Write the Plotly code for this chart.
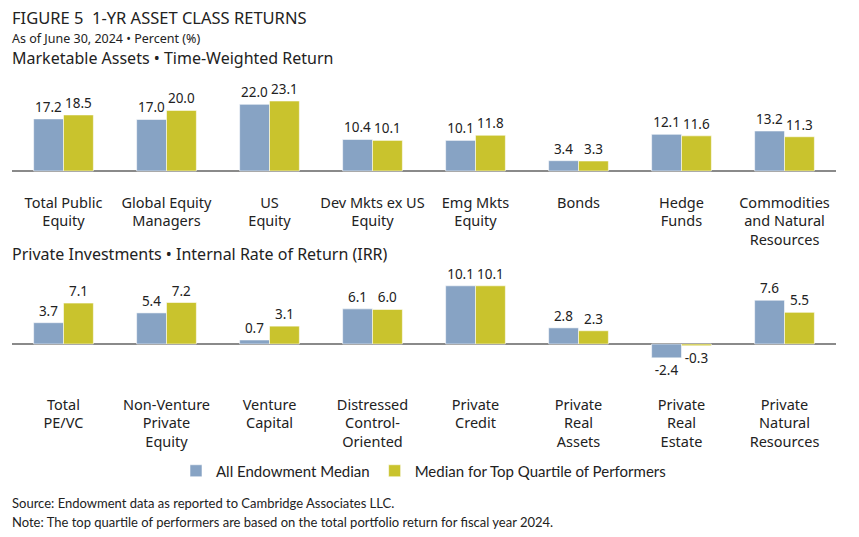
import plotly.graph_objects as go

W, H = 859, 537

top_categories = ["Total Public<br>Equity", "Global Equity<br>Managers", "US<br>Equity",
                  "Dev Mkts ex US<br>Equity", "Emg Mkts<br>Equity", "Bonds",
                  "Hedge<br>Funds", "Commodities<br>and Natural<br>Resources"]
top_all_median = [17.2, 17.0, 22.0, 10.4, 10.1, 3.4, 12.1, 13.2]
top_quartile_median = [18.5, 20.0, 23.1, 10.1, 11.8, 3.3, 11.6, 11.3]

bottom_categories = ["Total<br>PE/VC", "Non-Venture<br>Private<br>Equity", "Venture<br>Capital",
                     "Distressed<br>Control-<br>Oriented", "Private<br>Credit",
                     "Private<br>Real<br>Assets", "Private<br>Real<br>Estate",
                     "Private<br>Natural<br>Resources"]
bottom_all_median = [3.7, 5.4, 0.7, 6.1, 10.1, 2.8, -2.4, 7.6]
bottom_quartile_median = [7.1, 7.2, 3.1, 6.0, 10.1, 2.3, -0.3, 5.5]

series_names = ["All Endowment Median", "Median for Top Quartile of Performers"]
series_colors = ["#87A3C4", "#C9C32D"]

LABEL_FONT = "Noto Sans"
NOTE_FONT = "Lato"


def py(px):
    return 1 - px / H


fig = go.Figure()

panels = [
    ("x", "y", top_categories, [top_all_median, top_quartile_median], True),
    ("x2", "y2", bottom_categories, [bottom_all_median, bottom_quartile_median], False),
]
for xa, ya, cats, series, show in panels:
    for name, vals, col in zip(series_names, series, series_colors):
        fig.add_trace(go.Bar(
            x=cats, y=vals, name=name, xaxis=xa, yaxis=ya,
            marker=dict(color=col, line=dict(color="rgba(255,255,255,0.7)", width=0.8)),
            text=[f"{v:.1f}" for v in vals], textposition="outside",
            textfont=dict(family=LABEL_FONT, size=13.5, color="#222"),
            cliponaxis=False, showlegend=show, legendgroup=name,
        ))

x0, x1 = 12 / W, 836 / W

# top panel: baseline at 171px, 3.03 px per unit
top_dom = (192, 75)
top_scale = 3.03
top_range = [-(top_dom[0] - 171) / top_scale, (171 - top_dom[1]) / top_scale]
# bottom panel: baseline at 344px, 5.76 px per unit
bot_dom = (394, 265)
bot_scale = 5.76
bot_range = [-(bot_dom[0] - 344) / bot_scale, (344 - bot_dom[1]) / bot_scale]

axis_common = dict(showgrid=False, showticklabels=False, zeroline=True,
                   zerolinecolor="#8a8a8a", zerolinewidth=1.5, showline=False, ticks="")
xaxis_common = dict(showgrid=False, showline=False, ticks="", zeroline=False,
                    tickfont=dict(family=LABEL_FONT, size=14.5, color="#222"))

fig.update_layout(
    width=W, height=H,
    margin=dict(l=0, r=0, t=0, b=0),
    paper_bgcolor="white", plot_bgcolor="white",
    barmode="group", bargap=0.42, bargroupgap=0,
    xaxis=dict(domain=[x0, x1], anchor="y", **xaxis_common),
    xaxis2=dict(domain=[x0, x1], anchor="y2", **xaxis_common),
    yaxis=dict(domain=[py(top_dom[0]), py(top_dom[1])], range=top_range, anchor="x", **axis_common),
    yaxis2=dict(domain=[py(bot_dom[0]), py(bot_dom[1])], range=bot_range, anchor="x2", **axis_common),
    legend=dict(orientation="h", x=423.5 / W, xanchor="center", y=py(471), yanchor="middle",
                font=dict(family=NOTE_FONT, size=15, color="#222"),
                itemwidth=30, traceorder="normal"),
)

annotations = [
    ("FIGURE 5  1-YR ASSET CLASS RETURNS", 17, 16.5, LABEL_FONT),
    ("As of June 30, 2024 • Percent (%)", 38, 12.5, LABEL_FONT),
    ("Marketable Assets • Time-Weighted Return", 58, 16, LABEL_FONT),
    ("Private Investments • Internal Rate of Return (IRR)", 254, 16, LABEL_FONT),
    ("Source: Endowment data as reported to Cambridge Associates LLC.", 503, 13, NOTE_FONT),
    ("Note: The top quartile of performers are based on the total portfolio return for fiscal year 2024.", 522, 13, NOTE_FONT),
]
for text, ypx, size, fam in annotations:
    fig.add_annotation(text=text, xref="paper", yref="paper", x=10 / W, y=py(ypx),
                       xanchor="left", yanchor="middle", showarrow=False,
                       font=dict(family=fam, size=size, color="#222"))

fig.write_html("out.html", config={"displayModeBar": False},
               post_script="document.body.style.margin='0';")
